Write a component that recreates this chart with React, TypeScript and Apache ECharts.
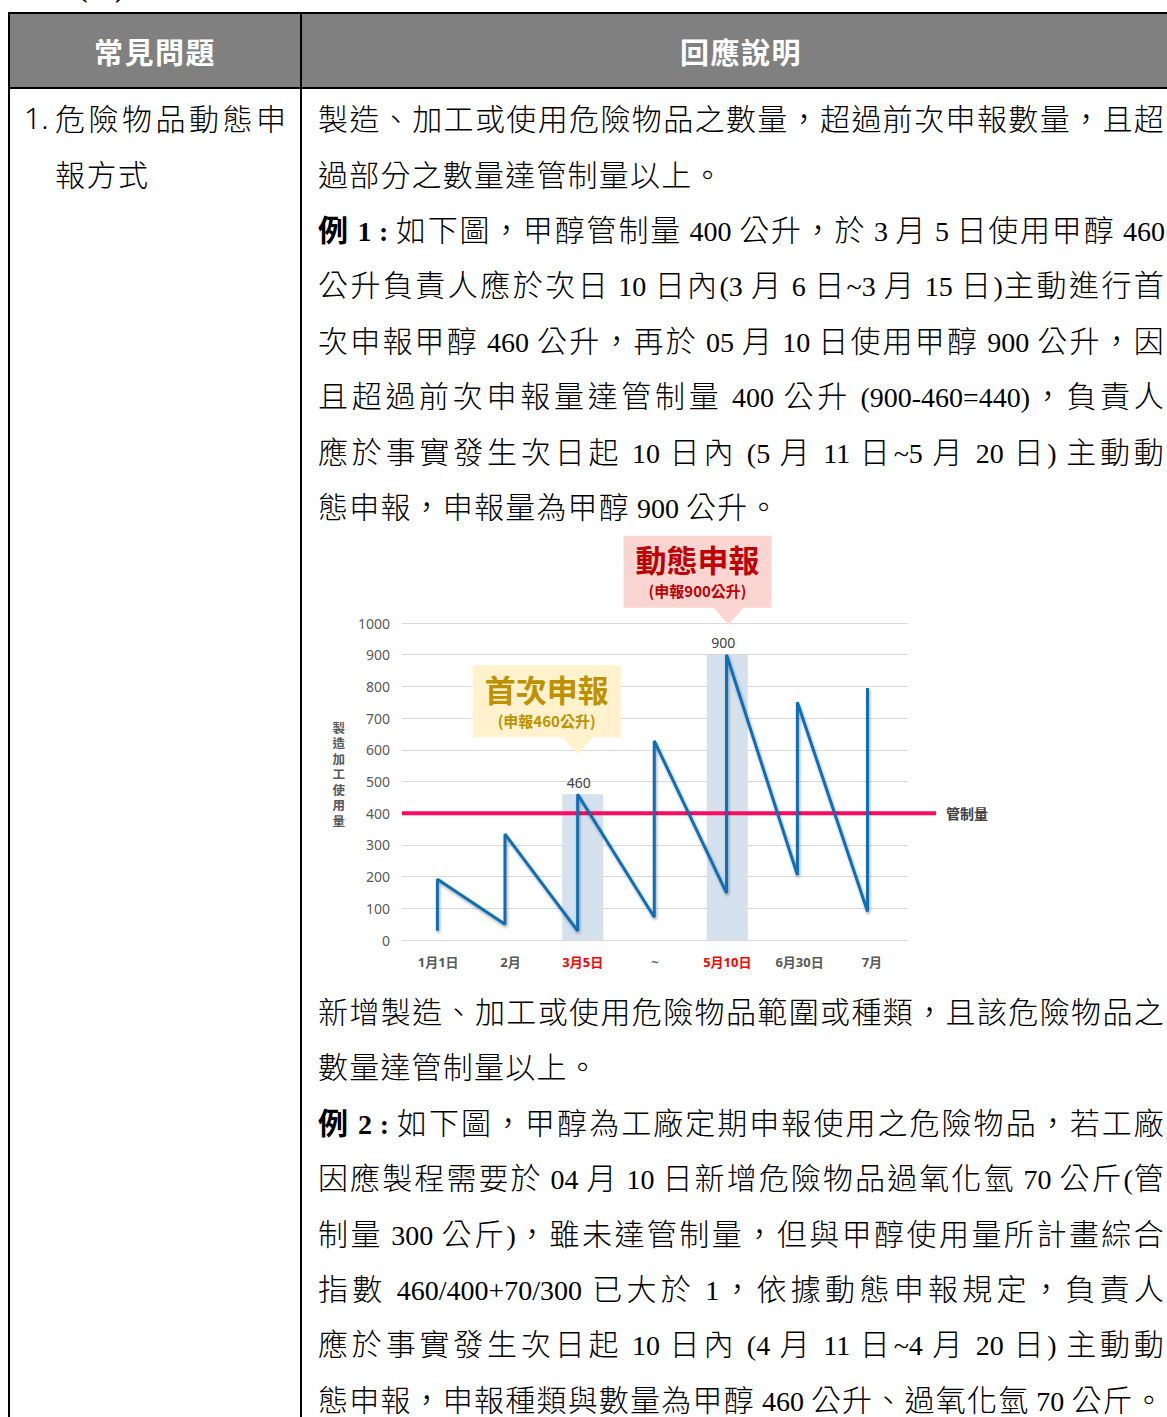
import React, { useEffect, useRef } from "react";
import * as echarts from "echarts";

// ---------- chart data ----------
const categories = ["1月1日", "2月", "3月5日", "~", "5月10日", "6月30日", "7月"];
const highlightCategories = ["3月5日", "5月10日"];
const bandValues = [null, null, 460, null, 900, null, null];
const usageX = [0.49, 0.49, 1.425, 1.425, 2.43, 2.43, 3.49, 3.49, 4.49, 4.49, 5.47, 5.47, 6.44, 6.44];
const usageY = [29, 192, 50, 334, 29, 460, 72, 628, 148, 900, 205, 750, 90, 795];
const yMin = 0;
const yMax = 1000;
const yStep = 100;
const limitValue = 400;
const limitLabel = "管制量";
const yAxisName = "製造加工使用量";
const calloutTitles = ["首次申報", "動態申報"];
const calloutSubs = ["(申報460公升)", "(申報900公升)"];
const calloutPointIndex = [5, 9];

// ---------- text content ----------
const topLines1: [string, boolean][] = [
  ["製造、加工或使用危險物品之數量，超過前次申報數量，且超", true],
  ["過部分之數量達管制量以上。", false],
];
const exLines1: [string, boolean][] = [
  ["公升負責人應於次日 10 日內(3 月 6 日~3 月 15 日)主動進行首", true],
  ["次申報甲醇 460 公升，再於 05 月 10 日使用甲醇 900 公升，因", true],
  ["且超過前次申報量達管制量 400 公升 (900-460=440)，負責人", true],
  ["應於事實發生次日起 10 日內 (5 月 11 日~5 月 20 日) 主動動", true],
  ["態申報，申報量為甲醇 900 公升。", false],
];
const bottomLines1: [string, boolean][] = [
  ["新增製造、加工或使用危險物品範圍或種類，且該危險物品之", true],
  ["數量達管制量以上。", false],
];
const exLines2: [string, boolean][] = [
  ["因應製程需要於 04 月 10 日新增危險物品過氧化氫 70 公斤(管", true],
  ["制量 300 公斤)，雖未達管制量，但與甲醇使用量所計畫綜合", true],
  ["指數 460/400+70/300 已大於 1，依據動態申報規定，負責人", true],
  ["應於事實發生次日起 10 日內 (4 月 11 日~4 月 20 日) 主動動", true],
  ["態申報，申報種類與數量為甲醇 460 公升、過氧化氫 70 公斤。", true],
];

const LH = 55.4;
const CJK = '"Noto Sans CJK TC", "Noto Sans", sans-serif';
const SERIF = '"Liberation Serif", "Noto Sans CJK TC", serif';

function Runs({ text, bold }: { text: string; bold?: boolean }) {
  const parts = text.split(/([\x20-\x7e]+)/).filter((p) => p.length > 0);
  return (
    <>
      {parts.map((p, i) =>
        /^[\x20-\x7e]+$/.test(p) ? (
          <span key={i} style={{ fontFamily: SERIF, fontSize: 28, letterSpacing: 0, fontWeight: bold ? "bold" : "normal" }}>
            {p}
          </span>
        ) : (
          <span key={i} style={{ fontFamily: CJK, fontSize: 30, letterSpacing: 1.2, fontWeight: bold ? 700 : 300 }}>
            {p}
          </span>
        )
      )}
    </>
  );
}

function Line({ text, justify, prefix }: { text: string; justify: boolean; prefix?: string }) {
  return (
    <div
      style={{
        height: LH,
        lineHeight: LH + "px",
        whiteSpace: "nowrap",
        textAlign: justify ? "justify" : "left",
        textAlignLast: justify ? "justify" : "left",
        fontFamily: CJK,
        fontSize: 30,
        color: "#000",
      } as React.CSSProperties}
    >
      {prefix ? <Runs text={prefix} bold /> : null}
      <Runs text={text} />
    </div>
  );
}

function Chart() {
  const ref = useRef<HTMLDivElement>(null);
  useEffect(() => {
    if (!ref.current) return;
    const chart = echarts.init(ref.current, null, { renderer: "svg" });
    const font = '"Noto Sans", "Noto Sans CJK TC", sans-serif';
    const option: any = {
      animation: false,
      textStyle: { fontFamily: font },
      grid: [
        { left: 84, top: 90, width: 506, height: 317 },
        { left: 84, top: 90, width: 534, height: 317 },
      ],
      xAxis: [
        {
          type: "category",
          gridIndex: 0,
          data: categories,
          boundaryGap: true,
          axisLine: { show: false },
          axisTick: { show: false },
          axisLabel: {
            interval: 0,
            margin: 15,
            fontSize: 13,
            fontWeight: "bold",
            color: "#595959",
            fontFamily: font,
            formatter: (v: string) => (highlightCategories.includes(v) ? `{r|${v}}` : v),
            rich: {
              r: {
                color: "#ff0000",
                fontWeight: "bold",
                fontSize: 13,
                fontFamily: font,
              },
            },
          },
        },
        { type: "value", gridIndex: 0, min: 0, max: 7, show: false },
        { type: "value", gridIndex: 1, min: 0, max: 1, show: false },
      ],
      yAxis: [
        {
          type: "value",
          gridIndex: 0,
          min: yMin,
          max: yMax,
          interval: yStep,
          axisLine: { show: false },
          axisTick: { show: false },
          splitLine: { lineStyle: { color: "#d9d9d9", width: 1 } },
          axisLabel: {
            color: "#595959",
            fontSize: 14,
            margin: 12,
            fontFamily: font,
            formatter: (v: number) => String(v),
          },
          name: yAxisName.split("").join("\n") + "\n ",
          nameLocation: "middle",
          nameRotate: 0,
          nameGap: 57,
          nameTextStyle: {
            color: "#595959",
            fontSize: 12.5,
            fontWeight: "bold",
            lineHeight: 15.5,
            fontFamily: '"Noto Sans CJK TC", sans-serif',
          },
        },
        { type: "value", gridIndex: 1, min: yMin, max: yMax, show: false },
      ],
      series: [
        {
          type: "bar",
          xAxisIndex: 0,
          yAxisIndex: 0,
          data: bandValues,
          barWidth: 41,
          z: 1,
          itemStyle: { color: "#d5e2ee" },
          label: {
            show: true,
            position: "top",
            offset: [-4, 0],
            color: "#404040",
            fontSize: 14,
            fontFamily: font,
          },
        },
        {
          type: "line",
          xAxisIndex: 2,
          yAxisIndex: 1,
          data: [
            [0, limitValue],
            [1, limitValue],
          ],
          symbol: "none",
          z: 2,
          lineStyle: { color: "#ff0a5f", width: 4 },
          endLabel: {
            show: true,
            formatter: limitLabel,
            distance: 10,
            color: "#404040",
            fontWeight: "bold",
            fontSize: 14,
            fontFamily: '"Noto Sans CJK TC", sans-serif',
          },
        },
        {
          type: "line",
          xAxisIndex: 1,
          yAxisIndex: 0,
          data: usageX.map((x, i) => [x, usageY[i]]),
          symbol: "none",
          z: 3,
          lineStyle: {
            color: "#0f6fb7",
            width: 3,
            shadowColor: "rgba(0,0,0,0.35)",
            shadowBlur: 3,
            shadowOffsetX: 1,
            shadowOffsetY: 2,
          },
        },
      ],
    };
    chart.setOption(option);

    const fills = ["#fff2cc", "#fbd5d1"];
    const inks = ["#bf9000", "#c00000"];
    const tipOffsets = [
      [0, -40],
      [2, -30],
    ];
    const graphics = calloutPointIndex.map((idx, k) => {
      const p = chart.convertToPixel({ seriesIndex: 2 }, [usageX[idx], usageY[idx]]) as number[];
      const tx = p[0] + tipOffsets[k][0];
      const ty = p[1] + tipOffsets[k][1];
      return {
        type: "group",
        x: tx,
        y: ty,
        children: [
          {
            type: "polygon",
            shape: {
              points: [
                [-105, -89],
                [43, -89],
                [43, -17],
                [15, -17],
                [0, 0],
                [-15, -17],
                [-105, -17],
              ],
            },
            style: { fill: fills[k] },
          },
          {
            type: "text",
            x: -31,
            y: -66,
            style: {
              text: calloutTitles[k],
              fill: inks[k],
              font: 'bold 31px "Noto Sans CJK TC", sans-serif',
              align: "center",
              verticalAlign: "middle",
              textAlign: "center",
              textVerticalAlign: "middle",
            },
          },
          {
            type: "text",
            x: -31,
            y: -34,
            style: {
              text: calloutSubs[k],
              fill: inks[k],
              font: 'bold 15px "Noto Sans CJK TC", sans-serif',
              align: "center",
              verticalAlign: "middle",
              textAlign: "center",
              textVerticalAlign: "middle",
            },
          },
        ],
      };
    });
    chart.setOption({ graphic: graphics });
    return () => chart.dispose();
  }, []);
  return <div ref={ref} style={{ width: 847, height: 449.6 }} />;
}

export default function App() {
  const black = "#000";
  return (
    <div
      style={{
        position: "fixed",
        left: 0,
        top: 0,
        width: 1167,
        height: 1417,
        overflow: "hidden",
        background: "#fff",
        fontFamily: CJK,
      }}
    >
      {/* cut-off heading above table */}
      <div style={{ position: "absolute", left: 78, top: -26, fontFamily: SERIF, fontSize: 28, lineHeight: "28px", fontWeight: "bold" }}>
        (二)
      </div>
      {/* header background */}
      <div style={{ position: "absolute", left: 10, top: 14, width: 1200, height: 73, background: "#808080" }} />
      {/* borders */}
      <div style={{ position: "absolute", left: 8, top: 12, width: 1200, height: 2, background: black }} />
      <div style={{ position: "absolute", left: 8, top: 87, width: 1200, height: 2, background: black }} />
      <div style={{ position: "absolute", left: 8, top: 12, width: 2, height: 1500, background: black }} />
      <div style={{ position: "absolute", left: 300, top: 12, width: 2, height: 1500, background: black }} />
      {/* header texts */}
      <div
        style={{
          position: "absolute",
          left: 10,
          top: 14,
          width: 290,
          height: 73,
          display: "flex",
          alignItems: "center",
          justifyContent: "center",
          color: "#fff",
          fontWeight: "bold",
          fontSize: 29,
          letterSpacing: 1.5,
        }}
      >
        常見問題
      </div>
      <div
        style={{
          position: "absolute",
          left: 302,
          top: 14,
          width: 878,
          height: 73,
          display: "flex",
          alignItems: "center",
          justifyContent: "center",
          color: "#fff",
          fontWeight: "bold",
          fontSize: 29,
          letterSpacing: 1.5,
        }}
      >
        回應說明
      </div>
      {/* left column */}
      <div style={{ position: "absolute", left: 24, top: 90.3, fontFamily: '"Noto Sans", sans-serif', fontSize: 30, fontWeight: 300, lineHeight: LH + "px" }}>
        1.
      </div>
      <div style={{ position: "absolute", left: 55, top: 90.3, width: 231, fontSize: 30, fontWeight: 300, lineHeight: LH + "px" }}>
        <div style={{ height: LH, whiteSpace: "nowrap", textAlign: "justify", textAlignLast: "justify" } as React.CSSProperties}>
          危險物品動態申
        </div>
        <div style={{ height: LH, whiteSpace: "nowrap", letterSpacing: 1.5 }}>報方式</div>
      </div>
      {/* right column */}
      <div style={{ position: "absolute", left: 318, top: 90.3, width: 847 }}>
        {topLines1.map(([t, j], i) => (
          <Line key={"a" + i} text={t} justify={j} />
        ))}
        <Line prefix="例 1 : " text="如下圖，甲醇管制量 400 公升，於 3 月 5 日使用甲醇 460" justify={true} />
        {exLines1.map(([t, j], i) => (
          <Line key={"b" + i} text={t} justify={j} />
        ))}
        <Chart />
        {bottomLines1.map(([t, j], i) => (
          <Line key={"c" + i} text={t} justify={j} />
        ))}
        <Line prefix="例 2 : " text="如下圖，甲醇為工廠定期申報使用之危險物品，若工廠" justify={true} />
        {exLines2.map(([t, j], i) => (
          <Line key={"d" + i} text={t} justify={j} />
        ))}
      </div>
    </div>
  );
}
